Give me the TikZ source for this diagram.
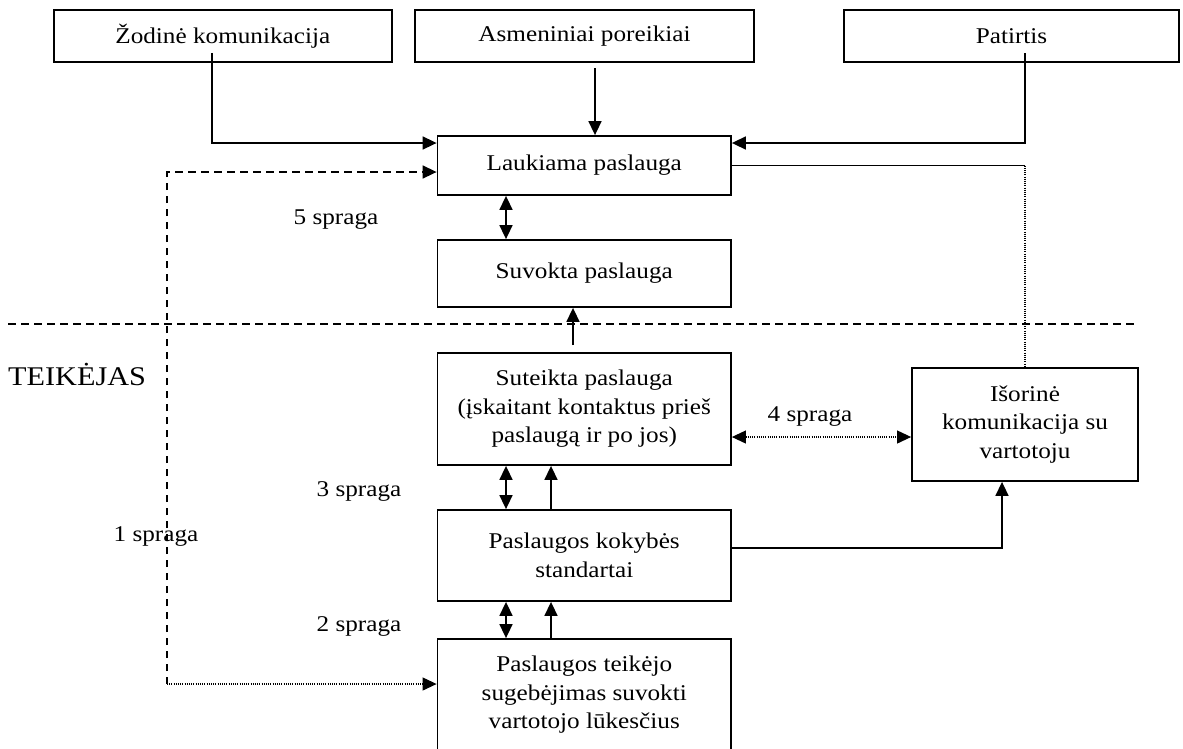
\documentclass[tikz,border=0pt]{standalone}
\usepackage{fontspec}
\setmainfont[FakeStretch=1.12]{Liberation Serif}
\usetikzlibrary{arrows.meta}

\tikzset{
  box/.style={draw, line width=1.8pt, inner sep=0pt, align=center,
              font=\fontsize{22.5}{28.5}\selectfont},
  lbl/.style={inner sep=0pt, font=\fontsize{22.5}{28.5}\selectfont},
  tip/.tip={Triangle[length=14pt,width=13pt]},
  conn/.style={line width=1.6pt},
  arr/.style={conn, -tip},
  dbl/.style={conn, tip-tip},
  dashline/.style={line width=1.6pt, dash pattern=on 7.5pt off 5.5pt},
  dotline/.style={line width=1.1pt, dash pattern=on 1pt off 1.2pt},
}

\begin{document}
\begin{tikzpicture}[x=1pt, y=1pt]
\useasboundingbox (0,0) rectangle (1183,-748);

% customer-side inputs
\node[box, minimum width=338pt, minimum height=52pt] (zod) at (222.8,-36) {Žodinė komunikacija};
\node[box, minimum width=339pt, minimum height=52pt] (asm) at (584.5,-36) {Asmeniniai poreikiai};
\node[box, minimum width=335pt, minimum height=52pt] (pat) at (1011.5,-36) {Patirtis};

% central column
\node[box, minimum width=293.5pt, minimum height=59pt] (lauk) at (584.25,-165.5) {Laukiama paslauga};
\node[box, minimum width=293.5pt, minimum height=67pt] (suv) at (584.25,-273.5) {\raisebox{5pt}{Suvokta paslauga}};
\node[box, minimum width=293.5pt, minimum height=112pt] (ste) at (584.25,-409)
  {Suteikta paslauga\\(įskaitant kontaktus prieš\\paslaugą ir po jos)};
\node[box, minimum width=293.5pt, minimum height=91pt] (kok) at (584.25,-555.5)
  {Paslaugos kokybės\\standartai};
\node[box, minimum width=293.5pt, minimum height=112pt] (teik) at (584.25,-695)
  {Paslaugos teikėjo\\sugebėjimas suvokti\\vartotojo lūkesčius};
\node[box, minimum width=226pt, minimum height=113pt] (ext) at (1025,-424.5)
  {Išorinė\\komunikacija su\\vartotoju};

% gap labels
\node[lbl] (g5) at (336,-220) {5 spraga};
\node[lbl] (g4) at (810,-417) {4 spraga};
\node[lbl] (g3) at (359,-491) {3 spraga};
\node[lbl] (g2) at (359,-626) {2 spraga};
\node[lbl] (g1) at (156,-536) {1 spraga};
\node[inner sep=0pt, anchor=west, font=\fontsize{27}{32}\selectfont] (prov) at (8,-374) {TEIKĖJAS};

% divider between customer and provider
\coordinate (divL) at (8,-324);
\coordinate (divR) at (1134,-324);
\draw[dashline] (divL) -- (divR);

% inputs into the expected service
\draw[arr] ([xshift=-10.8pt,yshift=10pt]zod.south) |- ([yshift=22.5pt]lauk.west);
\coordinate (asmout) at (595,-68);
\draw[arr] (asmout) -- (asmout |- lauk.north);
\coordinate (patout) at (1025,-53);
\draw[arr] (patout) |- ([yshift=22.5pt]lauk.east);

% external communication influences expectations
\coordinate (turn) at (lauk.east -| ext.north);
\draw[conn] (lauk.east) -- (turn);
\draw[dotline] (turn) -- (ext.north);

% gap 1
\coordinate (corner) at (167,-684);
\draw[dashline, -tip] (corner) |- ([yshift=-6.5pt]lauk.west);
\draw[dotline, -tip] (corner) -- (corner -| teik.west);

% gap 5
\draw[dbl] ([xshift=-78.25pt]lauk.south) -- ([xshift=-78.25pt]suv.north);
\draw[arr] ([xshift=-11.25pt,yshift=7pt]ste.north) -- ([xshift=-11.25pt]suv.south);

% gap 3
\draw[dbl] ([xshift=-78.25pt]ste.south) -- ([xshift=-78.25pt]kok.north);
\draw[arr] ([xshift=-33.25pt]kok.north) -- ([xshift=-33.25pt]ste.south);

% gap 2
\draw[dbl] ([xshift=-78.25pt]kok.south) -- ([xshift=-78.25pt]teik.north);
\draw[arr] ([xshift=-33.25pt]teik.north) -- ([xshift=-33.25pt]kok.south);

% standards to external communication
\draw[arr] ([yshift=7.5pt]kok.east) -| ([xshift=-23pt]ext.south);

% gap 4
\draw[dotline, tip-tip] ([yshift=-28pt]ste.east) -- ([yshift=-28pt]ste.east -| ext.west);
\end{tikzpicture}
\end{document}
